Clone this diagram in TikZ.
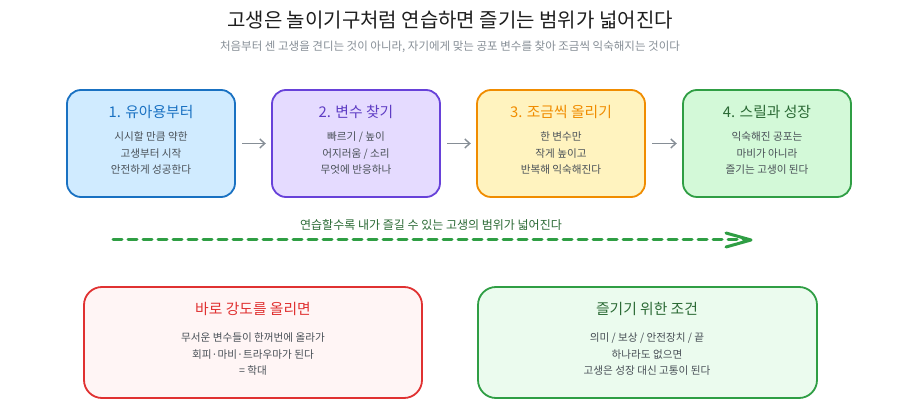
\documentclass[tikz,border=0pt]{standalone}
\usepackage{fontspec}
\setmainfont{Noto Sans CJK KR}
\usetikzlibrary{arrows.meta}
\definecolor{titlec}{HTML}{1E1E1E}
\definecolor{subc}{HTML}{868E96}
\definecolor{bodyc}{HTML}{495057}
\definecolor{blueS}{HTML}{1971C2}\definecolor{blueF}{HTML}{D0EBFF}
\definecolor{purpS}{HTML}{6741D9}\definecolor{purpF}{HTML}{E5DBFF}\definecolor{purpT}{HTML}{5F3DC4}
\definecolor{oranS}{HTML}{F08C00}\definecolor{oranF}{HTML}{FFF3BF}\definecolor{oranT}{HTML}{F08C00}
\definecolor{grnS}{HTML}{2F9E44}\definecolor{grnF}{HTML}{D3F9D8}\definecolor{grnT}{HTML}{2B6A35}
\definecolor{redS}{HTML}{E03131}\definecolor{redF}{HTML}{FFF5F5}\definecolor{redT}{HTML}{C92A2A}
\definecolor{grnF2}{HTML}{EBFBEE}
\definecolor{arrc}{HTML}{868E96}
\tikzset{
  card/.style={draw, line width=1.8pt, rounded corners=14pt},
  cardtitle/.style={font=\fontsize{14.8}{17}\selectfont, anchor=center},
  cardbody/.style={font=\fontsize{10.6}{16.5}\selectfont, text=bodyc, align=center, anchor=north},
  flow/.style={draw=arrc, line width=1.4pt, -{Straight Barb[length=5pt,width=9pt]}},
}
\begin{document}
\begin{tikzpicture}[x=1pt,y=-1pt]
\useasboundingbox (0,0) rectangle (900,411);
\fill[white] (0,0) rectangle (900,411);
\node[font=\fontsize{20}{24}\selectfont, text=titlec] (title) at (450,20) {고생은 놀이기구처럼 연습하면 즐기는 범위가 넓어진다};
\node[font=\fontsize{11.5}{14}\selectfont, text=subc] (sub) at (450,47) {처음부터 센 고생을 견디는 것이 아니라, 자기에게 맞는 공포 변수를 찾아 조금씩 익숙해지는 것이다};

% top cards
\draw[card, draw=blueS, fill=blueF] (67,90) rectangle (235,197);
\node (b1) at (151,143.5) [minimum width=168pt, minimum height=107pt] {};
\node[cardtitle, text=blueS] (t1) at (151,112) {1. 유아용부터};
\node[cardbody] (d1) at (151,128.5) {시시할 만큼 약한\\고생부터 시작\\안전하게 성공한다};

\draw[card, draw=purpS, fill=purpF] (272,90) rectangle (440,197);
\node (b2) at (356,143.5) [minimum width=168pt, minimum height=107pt] {};
\node[cardtitle, text=purpT] (t2) at (356,112) {2. 변수 찾기};
\node[cardbody] (d2) at (356,128.5) {빠르기 / 높이\\어지러움 / 소리\\무엇에 반응하나};

\draw[card, draw=oranS, fill=oranF] (477,90) rectangle (645,197);
\node (b3) at (561,143.5) [minimum width=168pt, minimum height=107pt] {};
\node[cardtitle, text=oranT] (t3) at (561,112) {3. 조금씩 올리기};
\node[cardbody] (d3) at (561,128.5) {한 변수만\\작게 높이고\\반복해 익숙해진다};

\draw[card, draw=grnS, fill=grnF] (683,90) rectangle (851,197);
\node (b4) at (767,143.5) [minimum width=168pt, minimum height=107pt] {};
\node[cardtitle, text=grnT] (t4) at (767,112) {4. 스릴과 성장};
\node[cardbody] (d4) at (767,128.5) {익숙해진 공포는\\마비가 아니라\\즐기는 고생이 된다};

\draw[flow] ([xshift=7pt]b1.east) -- ([xshift=-6pt]b2.west);
\draw[flow] ([xshift=7pt]b2.east) -- ([xshift=-6pt]b3.west);
\draw[flow] ([xshift=7pt]b3.east) -- ([xshift=-6pt]b4.west);

% progress arrow
\coordinate (ps) at (113,240);
\coordinate (pe) at (751,240);
\draw[draw=grnS, line width=3pt, dash pattern=on 9pt off 6pt, line cap=round] (ps) -- ([xshift=-6pt]pe);
\draw[draw=grnS, line width=3pt, line cap=round, line join=round] ([shift={(-25,-7)}]pe) -- (pe) -- ([shift={(-25,7)}]pe);
\node[font=\fontsize{12}{14}\selectfont, text=grnT] (pl) at (431,225) {연습할수록 내가 즐길 수 있는 고생의 범위가 넓어진다};

% bottom cards
\draw[card, draw=redS, fill=redF, rounded corners=18pt] (84,287) rectangle (422,398);
\node[cardtitle, text=redS] (t5) at (253,309) {바로 강도를 올리면};
\node[cardbody] (d5) at (253,329.5) {무서운 변수들이 한꺼번에 올라가\\회피·마비·트라우마가 된다\\= 학대};

\draw[card, draw=grnS, fill=grnF2, rounded corners=18pt] (478,287) rectangle (817,398);
\node[cardtitle, text=grnT] (t6) at (647,309) {즐기기 위한 조건};
\node[cardbody] (d6) at (647,329.5) {의미 / 보상 / 안전장치 / 끝\\하나라도 없으면\\고생은 성장 대신 고통이 된다};
\end{tikzpicture}
\end{document}
